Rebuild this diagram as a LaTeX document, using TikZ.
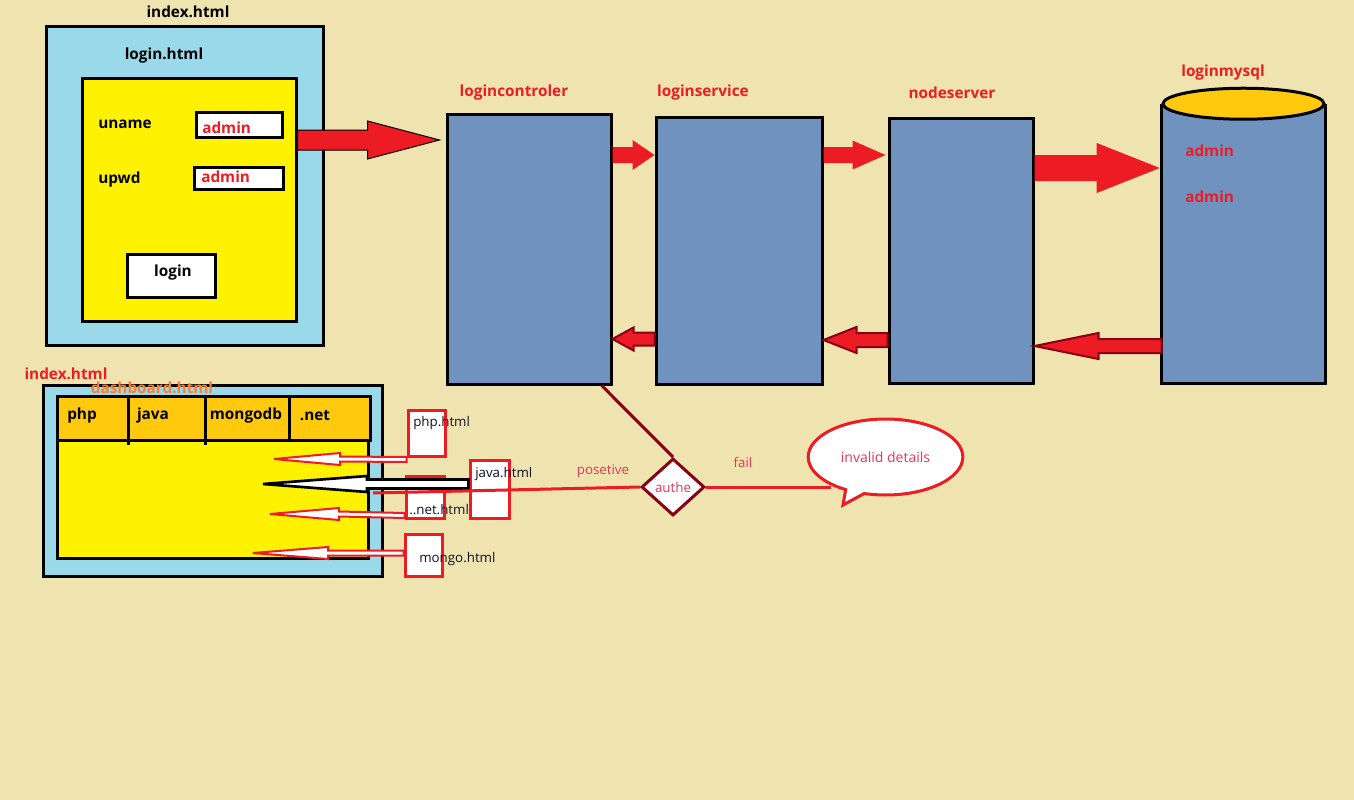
\documentclass[tikz,border=0pt]{standalone}
\usepackage{fontspec}
\setmainfont{Open Sans}
\usetikzlibrary{calc,fit,shapes.geometric,shapes.callouts}
\definecolor{bg}{HTML}{EFE4B0}
\definecolor{lblue}{HTML}{99D9EA}
\definecolor{yel}{HTML}{FFF200}
\definecolor{gold}{HTML}{FFC90E}
\definecolor{steel}{HTML}{7092BE}
\definecolor{pred}{HTML}{ED1C24}
\definecolor{dred}{HTML}{880015}
\definecolor{orng}{HTML}{FF7F27}
\definecolor{pinkred}{HTML}{EA3556}
\definecolor{ink}{HTML}{10102A}
\tikzset{
  frame/.style={draw=black, line width=2.25pt, inner sep=0pt},
  lbl/.style={font=\fontsize{11.5}{13}\selectfont\bfseries, inner sep=0pt},
  rlbl/.style={lbl, text=pred},
  small/.style={font=\fontsize{10}{12}\selectfont, inner sep=0pt, text=ink},
  plbl/.style={font=\fontsize{10}{12}\selectfont, inner sep=0pt, text=pinkred},
  pagebox/.style={draw=pred, line width=2.25pt, fill=white, inner sep=0pt},
  fwd/.style={fill=pred},
  fwdo/.style={fill=pred, draw=black, line width=0.75pt},
  back/.style={fill=pred, draw=dred, line width=1.5pt},
  thinarr/.style={fill=white, draw=pred, line width=1.5pt},
  blkarr/.style={fill=white, draw=black, line width=2pt},
  wire/.style={line width=2.25pt},
}
% #1 style, #2 start, #3 tip, #4 shaft half, #5 head half, #6 head base offset from tip
\newcommand\fatarr[6]{%
  \path[#1] ($(#2)+(0,#4)$) -- ($(#3)+(#6,#4)$) -- ($(#3)+(#6,#5)$) -- (#3)
    -- ($(#3)+(#6,-#5)$) -- ($(#3)+(#6,-#4)$) -- ($(#2)+(0,-#4)$) -- cycle;}
\begin{document}
\begin{tikzpicture}[x=0.75pt,y=-0.75pt]
\useasboundingbox (0,0) rectangle (1354,800);
\fill[bg] (0,0) rectangle (1354,800);

% ---------- login page ----------
\node[frame, fill=lblue, fit={(46,26) (323,345)}] (idx) {};
\node[lbl] (idxl) at (188,12) {index.html};
\node[lbl] (logl) at (164,56) {login.html};
\node[frame, fill=yel, fit={(82,78) (296,321)}] (form) {};
\node[lbl, anchor=west] (un) at (98,124) {uname};
\node[lbl, anchor=west] (pw) at (98,180) {upwd};
\node[frame, fill=white, fit={(196,112) (282,137)}] (f1) {};
\node[rlbl, anchor=west] (f1t) at (202,128) {admin};
\node[frame, fill=white, fit={(194,167) (283,189)}] (f2) {};
\node[rlbl, anchor=west] (f2t) at (201,177) {admin};
\node[frame, fill=white, fit={(127,254) (215,297)}] (btn) {};
\node[lbl] (btnt) at (173,273) {login};

% ---------- server boxes ----------
\node[frame, fill=steel, fit={(447,114) (611,384)}] (lc) {};
\node[rlbl] (lcl) at (514,93) {logincontroler};
\node[frame, fill=steel, fit={(656,117) (822,384)}] (ls) {};
\node[rlbl] (lsl) at (703,93) {loginservice};
\node[frame, fill=steel, fit={(889,118) (1033,383)}] (ns) {};
\node[rlbl] (nsl) at (952,93) {nodeserver};

% ---------- database ----------
\node[inner sep=0pt, fit={(1162,104) (1325,383)}] (db) {};
\draw[wire, fill=steel] (db.north west) -- (db.south west) -- (db.south east) -- (db.north east);
\draw[wire, fill=gold] (db.north) ellipse (80.5 and 15.5);
\node[rlbl] (dbl) at (1223,73) {loginmysql};
\node[rlbl, anchor=west] (dbu) at (1185,151) {admin};
\node[rlbl, anchor=west] (dbp) at (1185,197) {admin};

% ---------- flow arrows ----------
\coordinate (r140) at (0,140);
\coordinate (r155) at (0,155);
\coordinate (r168) at (0,168);
\coordinate (r339) at (0,339);
\coordinate (r340) at (0,340);
\coordinate (r346) at (0,346);
\coordinate (a1t) at ($(lc.west |- r140)+(-6,0)$);
\fatarr{fwdo}{form.east |- r140}{a1t}{10}{19}{-72}
\fatarr{fwd}{lc.east |- r155}{ls.west |- r155}{8}{15}{-22}
\coordinate (a3t) at ($(ns.west |- r155)+(-2,0)$);
\fatarr{fwd}{ls.east |- r155}{a3t}{8}{14.5}{-33}
\coordinate (a4t) at ($(db.west |- r168)+(-2,0)$);
\fatarr{fwd}{ns.east |- r168}{a4t}{13}{25}{-63}
\fatarr{back}{db.west |- r346}{ns.east |- r346}{7}{13}{64}
\fatarr{back}{ns.west |- r340}{ls.east |- r340}{7}{13}{33}
\fatarr{back}{ls.west |- r339}{lc.east |- r339}{6.5}{11.5}{21}

% ---------- dashboard ----------
\node[rlbl] (idx2l) at (66,374) {index.html};
\node[frame, fill=lblue, fit={(43,385) (382,576)}] (dash) {};
\node[frame, fill=yel, fit={(57,396) (368,558)}] (dy) {};
\node[frame, fill=gold, fit={(57,396) (370,440)}] (hdr) {};
\draw[wire] (128,396) -- (128,445);
\draw[wire] (205,396) -- (205,445);
\draw[wire] (289,396) -- (289,440);
\node[lbl, text=orng] (dashl) at (152,388) {dashboard.html};
\node[lbl] (t1) at (82,416) {php};
\node[lbl] (t2) at (153,416) {java};
\node[lbl] (t3) at (246,416) {mongodb};
\node[lbl] (t4) at (315,416) {.net};

% ---------- page boxes ----------
\node[pagebox, fit={(408,410) (445,456)}] (php) {};
\node[pagebox, fit={(470,460) (509,518)}] (java) {};
\node[pagebox, fit={(406,476) (444,518)}] (net) {};
\node[pagebox, fit={(405,534) (442,576)}] (mongo) {};

\coordinate (phps) at ($(php.south west)+(0,2)$);
\coordinate (phpt) at (274,459);
\fatarr{thinarr}{phps}{phpt}{2.5}{6}{66}
\coordinate (jvs) at ($(java.west)+(0,-5)$);
\coordinate (jvt) at (263,484);
\fatarr{blkarr}{jvs}{jvt}{4.5}{8}{104}
\coordinate (nts) at ($(net.south west)+(0,-4)$);
\coordinate (ntt) at (270,514);
\fatarr{thinarr}{nts}{ntt}{2.5}{6}{69}
\coordinate (mgs) at ($(mongo.west)+(0,-2)$);
\coordinate (mgt) at (253,553);
\fatarr{thinarr}{mgs}{mgt}{2.5}{6}{75}

\node[small, anchor=west] (phpl) at (413,423) {php.html};
\node[small, anchor=west] (javal) at (475,474) {java.html};
\node[small, anchor=west] (netl) at (409,510) {..net.html};
\node[small, anchor=west] (mongol) at (419,559) {mongo.html};

% ---------- authentication ----------
\node[diamond, draw=dred, line width=2.25pt, fill=white, inner sep=0pt,
      minimum width=47.25pt, minimum height=42.75pt, plbl] (au) at (673,487) {authe};
\draw[wire, dred] ($(lc.south)!0.87!(lc.south east)$) -- (au.north);
\node[ellipse callout, draw=pred, line width=2.25pt, fill=white, inner sep=0pt,
      minimum width=116pt, minimum height=57pt, plbl, font=\fontsize{10.5}{12}\selectfont,
      callout absolute pointer={(843,505)}] (inv) at (885.5,457) {invalid details};
\draw[wire, pred] (au.east) -- ($(au.east -| inv.west)+(24,0)$);
\coordinate (redend) at (373,493);
\draw[wire, pred] (au.west) -- (redend);
\node[plbl] (posl) at (603,471) {posetive};
\node[plbl] (faill) at (743,462) {fail};
\end{tikzpicture}
\end{document}
